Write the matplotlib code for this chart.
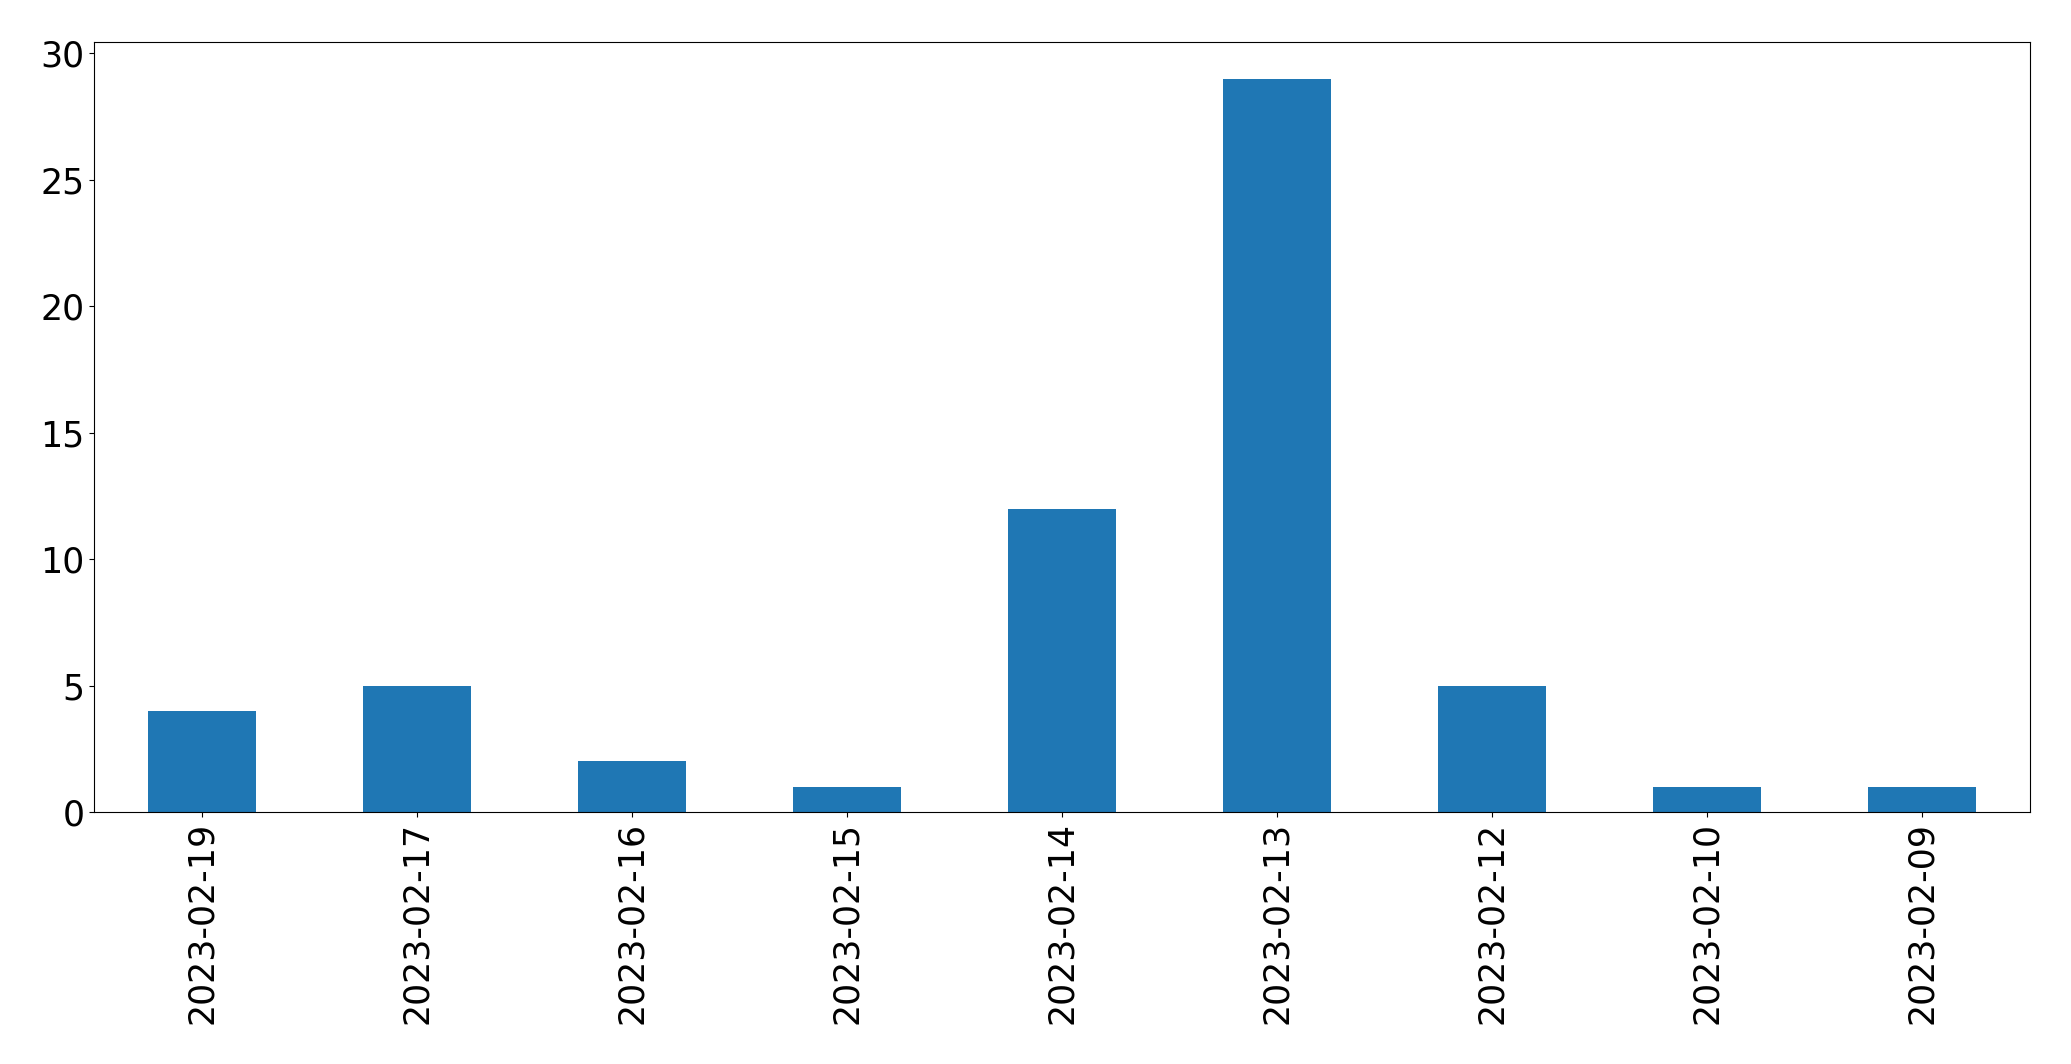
import matplotlib
matplotlib.use("Agg")
import matplotlib.pyplot as plt
import pandas as pd

dates = ["2023-02-19", "2023-02-17", "2023-02-16", "2023-02-15", "2023-02-14",
         "2023-02-13", "2023-02-12", "2023-02-10", "2023-02-09"]
counts = [4, 5, 2, 1, 12, 29, 5, 1, 1]

series = pd.Series(counts, index=dates)

fig = plt.figure(figsize=(20.71, 10.64), dpi=100)
ax = fig.add_subplot(1, 1, 1)
series.plot(kind="bar", ax=ax, fontsize=25)
ax.tick_params(axis="both", labelsize=25)
fig.subplots_adjust(left=0.0455, right=0.980, top=0.9605, bottom=0.2368)
plt.savefig("out.png", dpi=100)
